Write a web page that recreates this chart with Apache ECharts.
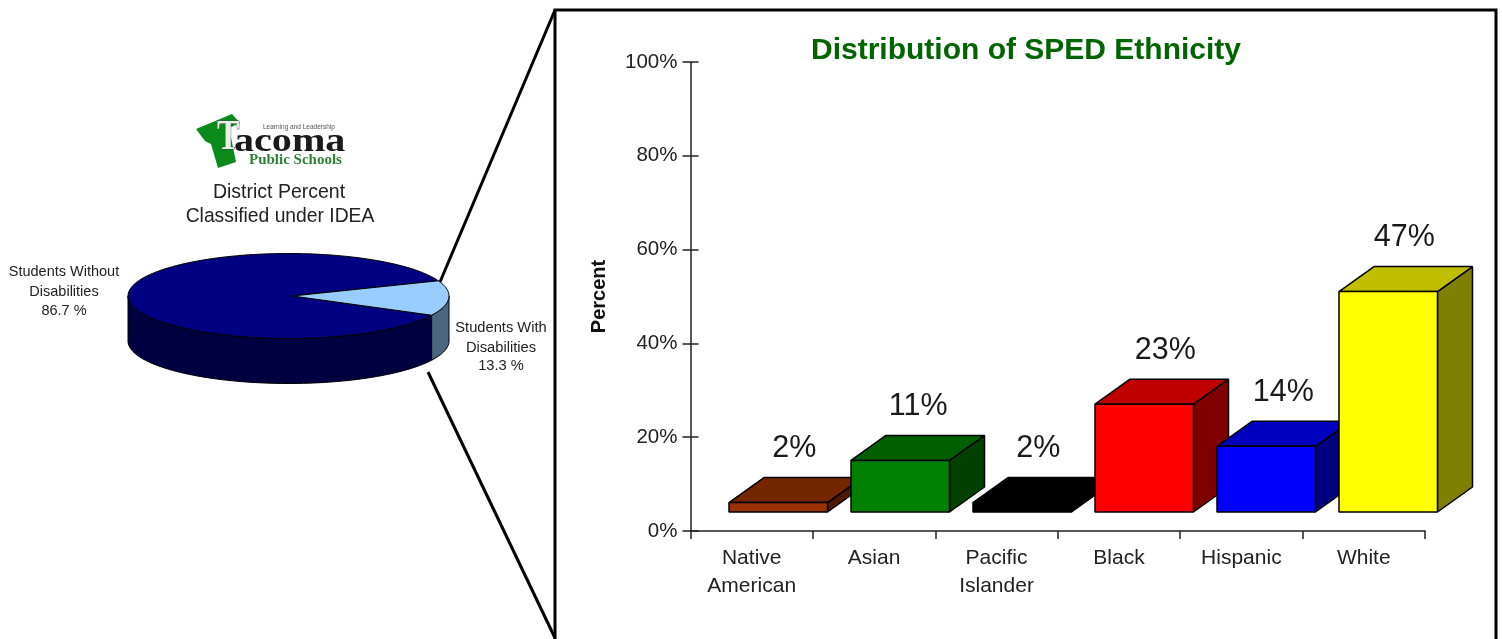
<!DOCTYPE html>
<html><head><meta charset="utf-8">
<style>html,body{margin:0;padding:0;background:#fff}#c{width:1502px;height:639px}</style>
<script src="https://cdn.jsdelivr.net/npm/echarts@6/dist/echarts.min.js"></script>
</head><body><div id="c"></div>
<script>
const categories = ['Native\nAmerican','Asian','Pacific\nIslander','Black','Hispanic','White'];
const sharePercent = [2,11,2,23,14,47];
const frontColors = ['#993300','#008000','#000000','#ff0000','#0000ff','#ffff00'];
const topColors   = ['#732600','#006000','#000000','#bf0000','#0000bf','#bfbf00'];
const sideColors  = ['#4d1a00','#004000','#000000','#800000','#000080','#808000'];
const yTicks = [0,20,40,60,80,100];
const pieValues = [86.7,13.3];

const FONT = '"Liberation Sans", Arial, sans-serif';
const SERIF = '"Liberation Serif", "Times New Roman", serif';
const DX = 35, DY = 25, FLOOR = 19, EDGE = '#000';

function renderBar(params, api){
  const i = params.dataIndex, v = api.value(1);
  const base = api.coord([i,0]), top = api.coord([i,v]);
  const w = 98.5;
  const x0 = base[0]-22.7-i*0.42, x1 = x0+w, y0 = base[1]-FLOOR, y1 = top[1]-FLOOR;
  const st = c => ({fill:c, stroke:EDGE, lineWidth:1.5, lineJoin:'bevel'});
  const nudge = i===3 ? 5 : (i===1 ? 2 : (i===4 ? 1 : 0));
  return {type:'group', children:[
    {type:'polygon', shape:{points:[[x1,y0],[x1+DX,y0-DY],[x1+DX,y1-DY],[x1,y1]]}, style:st(sideColors[i])},
    {type:'polygon', shape:{points:[[x0,y1],[x0+DX,y1-DY],[x1+DX,y1-DY],[x1,y1]]}, style:st(topColors[i])},
    {type:'rect', shape:{x:x0,y:y1,width:w,height:y0-y1}, style:st(frontColors[i])},
    {type:'text', x:(x0+x1)/2+16+nudge, y:y1-54, style:{text:v+'%', font:'30.5px '+FONT, fill:'#1a1a1a', align:'center', verticalAlign:'middle'}}
  ]};
}

const PCX = 288.5, PCY = 296, RX = 160.5, RY = 42.5, DEPTH = 45, START = -21;
const pieTotal = pieValues.reduce((a,b)=>a+b,0);
const ept = (deg,dy) => [PCX+RX*Math.cos(deg*Math.PI/180), PCY+RY*Math.sin(deg*Math.PI/180)+(dy||0)];
function arcPts(a,b,dy){
  const out=[], n=Math.max(2,Math.ceil(Math.abs(b-a)/2));
  for(let k=0;k<=n;k++) out.push(ept(a+(b-a)*k/n,dy));
  return out;
}
function renderPie(params, api){
  const sweep = api.value(0)/pieTotal*360;
  const isWith = params.dataIndex===1;
  const a = isWith ? START : START+pieValues[1]/pieTotal*360;
  const b = a+sweep;
  const top = isWith ? '#99ccff' : '#000080';
  const side = isWith ? '#4c6680' : '#000040';
  const children=[];
  const sa = Math.max(a,0), sb = Math.min(b,180);
  if(sb>sa){
    children.push({type:'polygon', shape:{points:arcPts(sa,sb,0).concat(arcPts(sb,sa,DEPTH))}, style:{fill:side,stroke:'#000',lineWidth:1}});
  }
  children.push({type:'polygon', shape:{points:[[PCX+4,PCY]].concat(arcPts(a,b,0))}, style:{fill:top,stroke:'#000',lineWidth:1}});
  return {type:'group',children};
}

const txt = (x,y,text,size,extra) => ({type:'text',x,y,silent:true,style:Object.assign({text,font:size+'px '+FONT,fill:'#222',align:'center',verticalAlign:'middle'},extra||{})});
const ln = (x1,y1,x2,y2) => ({type:'line',silent:true,shape:{x1,y1,x2,y2},style:{stroke:'#000',lineWidth:3}});

const chart = echarts.init(document.getElementById('c'),null,{renderer:'canvas'});
chart.setOption({
  animation:false,
  backgroundColor:'#fff',
  title:{text:'Distribution of SPED Ethnicity',left:1021,top:46,textAlign:'center',textVerticalAlign:'middle',
    textStyle:{fontFamily:FONT,fontWeight:'bold',fontSize:30,color:'#006400'}},
  grid:{left:690.5,width:734.5,top:62,height:469},
  xAxis:{type:'category',data:categories,
    axisLine:{lineStyle:{color:'#222',width:1.5}},
    axisTick:{show:true,length:8,lineStyle:{color:'#222',width:1.5}},
    axisLabel:{fontFamily:FONT,fontSize:21,color:'#222',lineHeight:28,margin:13,interval:0}},
  yAxis:[
    {type:'value',min:yTicks[0],max:yTicks[yTicks.length-1],interval:20,
     name:'Percent',nameLocation:'middle',nameGap:81,nameRotate:90,
     nameTextStyle:{fontFamily:FONT,fontWeight:'bold',fontSize:20,color:'#111'},
     axisLine:{show:true,lineStyle:{color:'#222',width:1.5}},
     axisTick:{show:true,length:8,lineStyle:{color:'#222',width:1.5}},
     splitLine:{show:false},
     axisLabel:{fontFamily:FONT,fontSize:20.5,color:'#222',margin:13,formatter:'{value}%'}},
    {type:'value',min:yTicks[0],max:yTicks[yTicks.length-1],interval:20,position:'left',
     axisLine:{show:false},axisLabel:{show:false},splitLine:{show:false},
     axisTick:{show:true,inside:true,length:8,lineStyle:{color:'#222',width:1.5}}}
  ],
  series:[
    {type:'custom',name:'SPED',coordinateSystem:'cartesian2d',renderItem:renderBar,
     data:sharePercent.map((v,i)=>[i,v]),encode:{x:0,y:1},clip:false},
    {type:'custom',name:'District',coordinateSystem:'none',renderItem:renderPie,
     data:pieValues.map((v)=>[v]),z:3}
  ],
  graphic:[
    {type:'rect',silent:true,shape:{x:555,y:10,width:941,height:700},style:{fill:'none',stroke:'#000',lineWidth:3}},
    ln(555,10,440,282), ln(428,372,555,638),
    txt(279,192.5,'District Percent',19.5), txt(280,216.5,'Classified under IDEA',19.3),
    txt(64,272,'Students Without',14.5), txt(64,291.5,'Disabilities',14.5), txt(64,311,'86.7 %',14.5),
    txt(501,328,'Students With',14.7), txt(501,347.5,'Disabilities',14.7), txt(501,366,'13.3 %',14.7),
    {type:'polygon',silent:true,shape:{points:[[196,129],[232,114],[240,123],[229,128],[236,162],[218,168],[211,144],[205,141]]},style:{fill:'#0a8a1a'}},
    {type:'text',silent:true,x:217,y:159.5,scaleX:0.8,style:{text:'T',font:'bold 42px '+SERIF,fill:'#e8efe8',stroke:'#444',lineWidth:1,verticalAlign:'bottom'}},
    {type:'text',silent:true,x:234,y:159.5,scaleX:1.18,style:{text:'acoma',font:'bold 34px '+SERIF,fill:'#1a1a1a',verticalAlign:'bottom'}},
    {type:'text',silent:true,x:249,y:160.5,style:{text:'Public Schools',font:'bold 15px '+SERIF,fill:'#2f7f35',verticalAlign:'middle'}},
    {type:'text',silent:true,x:263,y:127.5,style:{text:'Learning and Leadership',font:'6.5px '+FONT,fill:'#555',verticalAlign:'middle'}}
  ]
});
</script></body></html>
